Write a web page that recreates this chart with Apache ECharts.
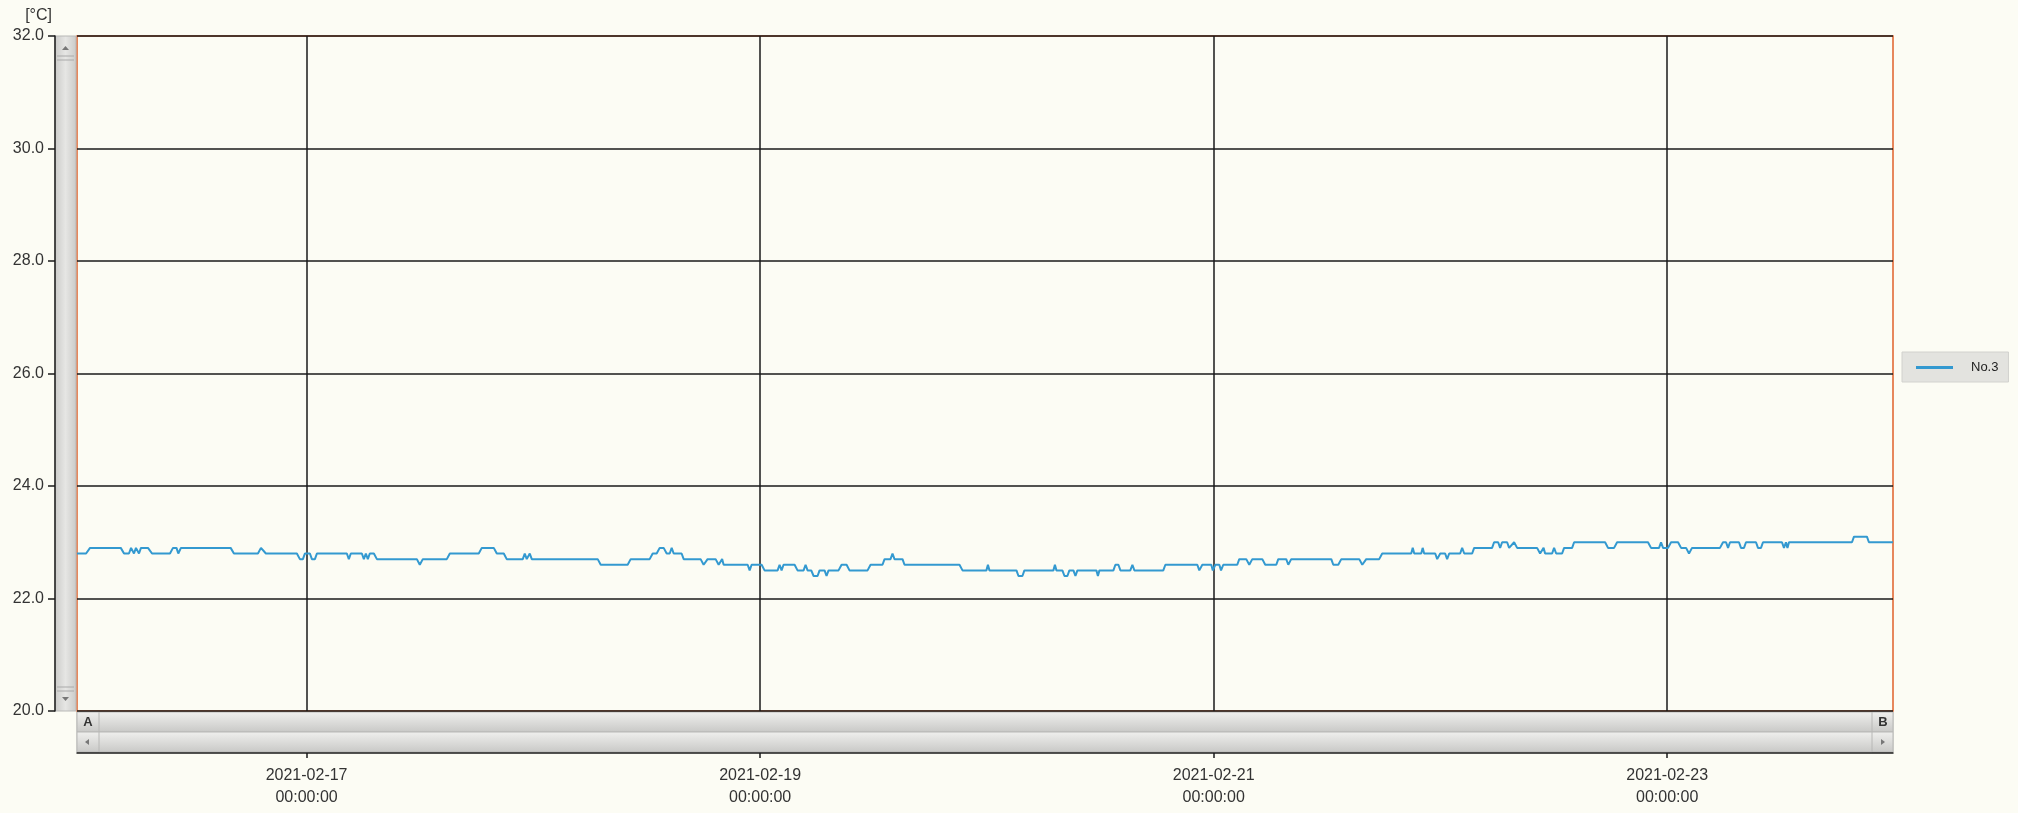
<!DOCTYPE html>
<html><head><meta charset="utf-8">
<script src="https://cdn.jsdelivr.net/npm/echarts@6/dist/echarts.min.js"></script>
<style>html,body{margin:0;padding:0;background:#fcfcf4}#c{width:2018px;height:813px}</style>
</head><body><div id="c"></div>
<script>
// hours since 2021-02-16 00:00
const hours = [-0.3,0.66,1.08,4.33,4.68,5.20,5.42,5.73,5.94,6.26,6.47,7.21,7.64,9.54,9.86,10.23,10.42,10.70,15.96,16.31,
18.85,19.17,19.38,19.69,22.97,23.29,23.61,23.82,24.35,24.56,24.88,25.09,28.26,28.47,28.68,29.85,30.06,30.27,30.48,30.69,
31.12,31.44,35.67,35.98,36.30,38.84,39.16,42.22,42.54,43.81,44.13,44.87,45.18,46.88,47.09,47.30,47.62,47.83,54.81,55.13,
57.98,58.30,60.31,60.63,61.05,61.37,61.79,62.11,62.43,62.64,62.85,63.69,63.91,65.70,66.02,66.23,66.44,67.29,67.61,67.82,
67.98,68.14,70.68,70.89,71.10,72.16,72.47,73.85,74.06,74.27,74.48,75.65,75.96,76.60,76.81,77.02,77.41,77.66,78.08,78.29,
78.82,79.03,79.24,80.30,80.62,81.15,81.46,83.37,83.69,84.95,85.17,85.80,86.01,86.22,87.07,87.28,93.10,93.42,95.95,96.11,
96.27,99.13,99.34,99.76,99.97,103.04,103.20,103.36,103.99,104.21,104.52,104.73,105.16,105.37,105.58,107.59,107.75,107.91,109.39,109.60,
109.92,110.13,111.18,111.40,111.61,114.67,114.89,118.27,118.48,118.80,119.75,119.91,120.18,120.60,120.78,121.02,122.50,122.71,123.45,123.77,
124.09,125.15,125.46,126.63,126.84,127.68,127.90,128.21,132.45,132.66,133.19,133.51,135.41,135.73,135.94,136.15,137.52,137.84,140.91,141.07,
141.23,141.97,142.12,142.28,143.45,143.66,143.98,144.50,144.71,144.93,146.09,146.30,146.52,147.36,147.57,149.47,149.68,150.11,150.32,150.53,
151.06,151.27,151.48,151.80,152.12,154.23,154.55,154.76,154.92,155.08,155.82,156.03,156.25,156.88,157.09,157.94,158.15,161.43,161.74,162.38,
162.70,165.97,166.29,167.14,167.35,167.56,168.09,168.41,169.15,169.47,170.00,170.31,170.63,173.59,173.91,174.23,174.44,174.65,175.60,175.81,
176.13,176.34,177.40,177.61,177.93,178.14,180.15,180.36,180.57,180.73,180.89,187.56,187.77,189.14,189.35,191.89];
const temps = [22.8,22.8,22.9,22.9,22.8,22.8,22.9,22.8,22.9,22.8,22.9,22.9,22.8,22.8,22.9,22.9,22.8,22.9,22.9,22.8,
22.8,22.9,22.9,22.8,22.8,22.7,22.7,22.8,22.8,22.7,22.7,22.8,22.8,22.7,22.8,22.8,22.7,22.8,22.7,22.8,
22.8,22.7,22.7,22.6,22.7,22.7,22.8,22.8,22.9,22.9,22.8,22.8,22.7,22.7,22.8,22.7,22.8,22.7,22.7,22.6,
22.6,22.7,22.7,22.8,22.8,22.9,22.9,22.8,22.8,22.9,22.8,22.8,22.7,22.7,22.6,22.6,22.7,22.7,22.6,22.6,
22.7,22.6,22.6,22.5,22.6,22.6,22.5,22.5,22.6,22.5,22.6,22.6,22.5,22.5,22.6,22.5,22.5,22.4,22.4,22.5,
22.5,22.4,22.5,22.5,22.6,22.6,22.5,22.5,22.6,22.6,22.7,22.7,22.8,22.7,22.7,22.6,22.6,22.5,22.5,22.6,
22.5,22.5,22.4,22.4,22.5,22.5,22.6,22.5,22.5,22.4,22.4,22.5,22.5,22.4,22.5,22.5,22.4,22.5,22.5,22.6,
22.6,22.5,22.5,22.6,22.5,22.5,22.6,22.6,22.5,22.6,22.6,22.5,22.6,22.6,22.5,22.6,22.6,22.7,22.7,22.6,
22.7,22.7,22.6,22.6,22.7,22.7,22.6,22.7,22.7,22.6,22.6,22.7,22.7,22.6,22.6,22.7,22.7,22.8,22.8,22.9,
22.8,22.8,22.9,22.8,22.8,22.7,22.8,22.8,22.7,22.8,22.8,22.9,22.8,22.8,22.9,22.9,23.0,23.0,22.9,23.0,
23.0,22.9,22.9,23.0,22.9,22.9,22.8,22.8,22.9,22.8,22.8,22.9,22.8,22.8,22.9,22.9,23.0,23.0,22.9,22.9,
23.0,23.0,22.9,22.9,23.0,22.9,22.9,23.0,23.0,22.9,22.9,22.8,22.9,22.9,23.0,23.0,22.9,23.0,23.0,22.9,
22.9,23.0,23.0,22.9,22.9,23.0,23.0,22.9,23.0,22.9,23.0,23.0,23.1,23.1,23.0,23.0];
const tickDates = ['2021-02-17','2021-02-19','2021-02-21','2021-02-23'];
const yMin = 20, yMax = 32, yStep = 2;
const seriesName = 'No.3';
const yUnit = '[°C]';

const H = 3600000;
const base = new Date(2021, 1, 16, 0, 0, 0).getTime();
const data = hours.map((h, i) => [base + h * H, temps[i]]);
const tickVals = tickDates.map(s => { const p = s.split('-'); return new Date(+p[0], +p[1] - 1, +p[2]).getTime(); });
const pad = n => (n < 10 ? '0' : '') + n;
const fmt = v => { const d = new Date(v); return d.getFullYear() + '-' + pad(d.getMonth() + 1) + '-' + pad(d.getDate()) + '\n' + pad(d.getHours()) + ':' + pad(d.getMinutes()) + ':' + pad(d.getSeconds()); };

const L = 77, R = 1893, T = 36, B = 711;
const FONT = 'Liberation Sans';
const vg = new echarts.graphic.LinearGradient(0, 0, 0, 1, [{offset:0,color:'#f0f0ee'},{offset:0.5,color:'#dcdcda'},{offset:1,color:'#c8c8c6'}]);
const hg = new echarts.graphic.LinearGradient(0, 0, 1, 0, [{offset:0,color:'#cacac8'},{offset:0.5,color:'#e6e6e4'},{offset:1,color:'#cacac8'}]);
const cell = (x, y, w, h, fill) => ({type:'rect', shape:{x, y, width:w, height:h}, style:{fill, stroke:'#b8b8b6', lineWidth:1}, silent:true});
const tri = (pts) => ({type:'polygon', shape:{points:pts}, style:{fill:'#777'}, silent:true});
const graphics = [
  cell(L, B + 1, R - L, 20, vg),
  cell(L, B + 21, R - L, 20, vg),
  cell(L, B + 1, 22, 20, vg),
  cell(R - 21, B + 1, 21, 20, vg),
  cell(L, B + 21, 22, 20, vg),
  cell(R - 21, B + 21, 21, 20, vg),
  {type:'text', x:L + 11, y:B + 11, style:{text:'A', fill:'#333', font:'bold 13px "Liberation Sans"', align:'center', verticalAlign:'middle'}, silent:true},
  {type:'text', x:R - 10, y:B + 11, style:{text:'B', fill:'#333', font:'bold 13px "Liberation Sans"', align:'center', verticalAlign:'middle'}, silent:true},
  tri([[L + 8, B + 31],[L + 12, B + 28],[L + 12, B + 34]]),
  tri([[R - 8, B + 31],[R - 12, B + 28],[R - 12, B + 34]]),
  cell(55, T, 21, B - T, hg),
  tri([[65.5, T + 10],[62, T + 14],[69, T + 14]]),
  tri([[65.5, B - 10],[62, B - 14],[69, B - 14]]),
  {type:'line', shape:{x1:57, y1:T + 20, x2:74, y2:T + 20}, style:{stroke:'#aaa', lineWidth:1}, silent:true},
  {type:'line', shape:{x1:57, y1:T + 24, x2:74, y2:T + 24}, style:{stroke:'#aaa', lineWidth:1}, silent:true},
  {type:'line', shape:{x1:57, y1:B - 20, x2:74, y2:B - 20}, style:{stroke:'#aaa', lineWidth:1}, silent:true},
  {type:'line', shape:{x1:57, y1:B - 24, x2:74, y2:B - 24}, style:{stroke:'#aaa', lineWidth:1}, silent:true}
];

const chart = echarts.init(document.getElementById('c'), null, {renderer:'canvas'});
chart.setOption({
  backgroundColor: '#fcfcf4',
  animation: false,
  textStyle: {fontFamily: FONT},
  grid: {left: L, right: 2018 - R, top: T, bottom: 813 - B, show: true, borderColor: '#e0602a', borderWidth: 1.5, backgroundColor: 'transparent'},
  legend: {
    left: 1902, top: 352, orient: 'vertical', padding: [9, 10, 8, 14],
    backgroundColor: '#e3e3df', borderColor: '#d2d2ce', borderWidth: 1,
    itemWidth: 37, itemHeight: 12,
    textStyle: {color: '#222', fontSize: 13, fontFamily: FONT, padding: [0, 0, 0, 13]},
    data: [{name: seriesName, icon: 'path://M0,4.5 L37,4.5 L37,7.5 L0,7.5 Z'}]
  },
  xAxis: {
    type: 'value',
    min: base - 0.3 * H, max: base + 191.9 * H,
    offset: 42,
    axisLine: {show: true, lineStyle: {color: '#1a1a1a', width: 1.5}},
    axisTick: {show: true, inside: false, length: 5, lineStyle: {color: '#1a1a1a', width: 1.5}, customValues: tickVals},
    axisLabel: {show: true, customValues: tickVals, formatter: fmt, color: '#333', fontSize: 16, fontFamily: FONT, lineHeight: 22, margin: 12},
    splitLine: {show: true, lineStyle: {color: '#1a1a1a', width: 1.5}},
    minorTick: {show: false}
  },
  yAxis: {
    type: 'value', min: yMin, max: yMax, interval: yStep,
    offset: 22,
    name: yUnit, nameLocation: 'end', nameGap: 12,
    nameTextStyle: {color: '#333', fontSize: 16, fontFamily: FONT, align: 'right', padding: [0, 3, 0, 0]},
    axisLine: {show: true, lineStyle: {color: '#1a1a1a', width: 1.5}},
    axisTick: {show: true, inside: false, length: 7, lineStyle: {color: '#1a1a1a', width: 1.5}},
    axisLabel: {formatter: v => v.toFixed(1), color: '#333', fontSize: 16, fontFamily: FONT, margin: 11},
    splitLine: {show: true, lineStyle: {color: '#1a1a1a', width: 1.5}}
  },
  graphic: graphics,
  series: [{
    name: seriesName, type: 'line', data: data, symbol: 'none', showSymbol: false,
    lineStyle: {color: '#3399d0', width: 2}, itemStyle: {color: '#3399d0'}, z: 3
  }]
});
</script></body></html>
